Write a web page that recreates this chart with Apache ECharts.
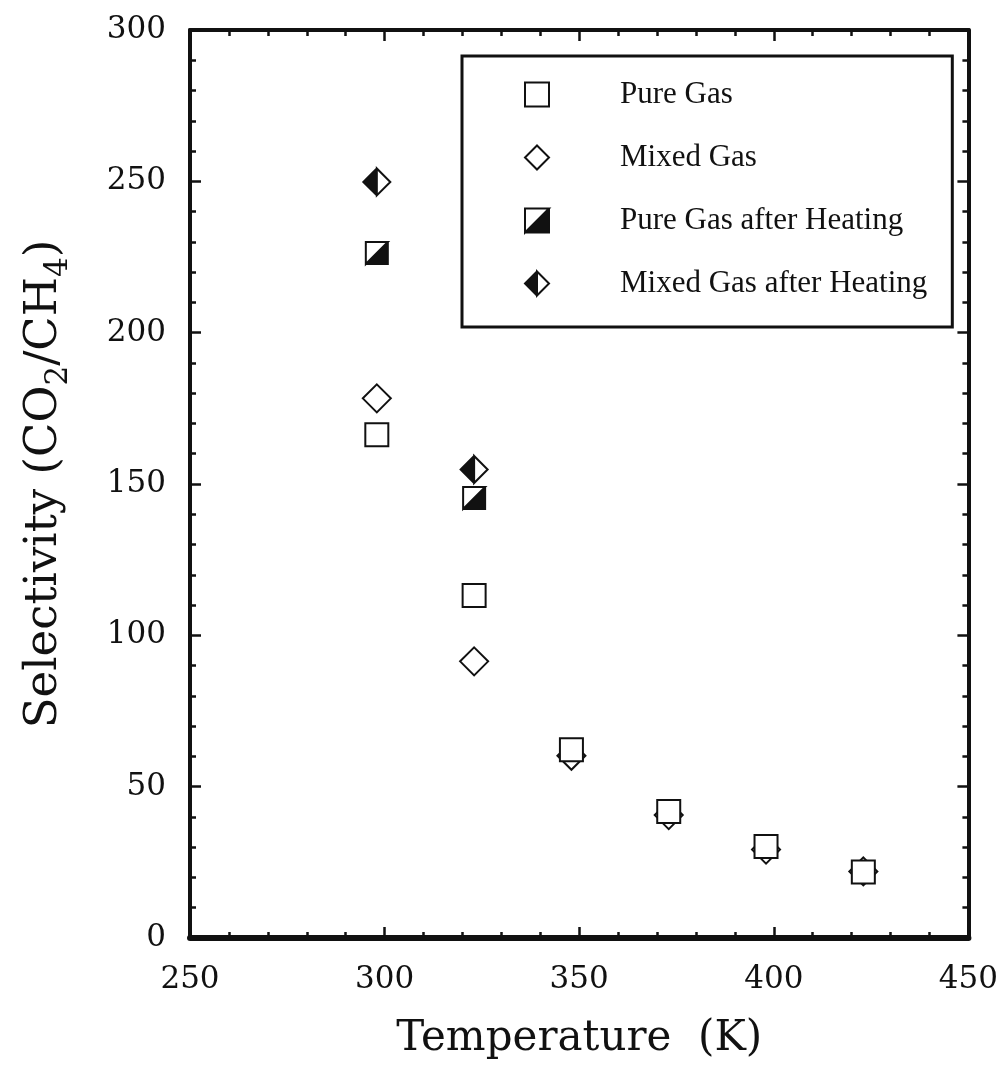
<!DOCTYPE html>
<html>
<head>
<meta charset="utf-8">
<script src="https://cdn.jsdelivr.net/npm/echarts@6/dist/echarts.min.js"></script>
<style>
html,body{margin:0;padding:0;background:#fff;}
#chart{width:1001px;height:1065px;}
</style>
</head>
<body>
<div id="chart"></div>
<script>
// Data
const temps = [298, 323, 348, 373, 398, 423];
const pureGas = [166.3, 113.2, 62.2, 41.8, 30.2, 21.8];
const mixedGas = [178.3, 91.4, 60.2, 40.6, 29.2, 22.0];
const heatTemps = [298, 323];
const pureHeated = [226.3, 145.4];
const mixedHeated = [249.8, 154.8];
const seriesNames = ['Pure Gas', 'Mixed Gas', 'Pure Gas after Heating', 'Mixed Gas after Heating'];

const halfSquare = 'path://M0,0L10,0L10,10L0,10ZM0,0L0,10L10,0Z';
const halfDiamond = 'path://M5,0L10,5L5,10L0,5ZM5,0L5,10L10,5Z';

function pairs(xs, ys){ return xs.map((x,i)=>[x, ys[i]]); }

const chart = echarts.init(document.getElementById('chart'), null, {renderer:'canvas'});
const axisFont = 'DejaVu Serif';
const tickStyle = {show:true, inside:true, length:11, lineStyle:{color:'#111', width:2.5}};
const minorStyle = {show:true, splitNumber:5, length:6, lineStyle:{color:'#111', width:2.5}};

chart.setOption({
  animation:false,
  backgroundColor:'#fff',
  grid:{left:190, right:31, top:30, bottom:127, containLabel:false},
  xAxis:[{
    type:'value', min:250, max:450, interval:50, position:'bottom',
    name:'Temperature  (K)', nameLocation:'middle', nameGap:80,
    nameTextStyle:{fontFamily:axisFont, fontSize:42, color:'#111'},
    axisLine:{show:true, onZero:false, lineStyle:{color:'#111', width:6}},
    axisTick:tickStyle, minorTick:minorStyle,
    axisLabel:{fontFamily:axisFont, fontSize:31, color:'#111', margin:26},
    splitLine:{show:false}
  },{
    type:'value', min:250, max:450, interval:50, position:'top',
    axisLine:{show:true, onZero:false, lineStyle:{color:'#111', width:4}},
    axisTick:tickStyle, minorTick:minorStyle,
    axisLabel:{show:false}, splitLine:{show:false}
  }],
  yAxis:[{
    type:'value', min:0, max:300, interval:50, position:'left',
    name:'Selectivity (CO{sub|2}/CH{sub|4})', nameLocation:'middle', nameGap:116,
    nameTextStyle:{fontFamily:axisFont, fontSize:45, color:'#111', lineHeight:60,
      rich:{sub:{fontFamily:axisFont, fontSize:31, color:'#111', verticalAlign:'bottom', lineHeight:60}}},
    axisLine:{show:true, onZero:false, lineStyle:{color:'#111', width:4}},
    axisTick:tickStyle, minorTick:minorStyle,
    axisLabel:{fontFamily:axisFont, fontSize:31, color:'#111', margin:24},
    splitLine:{show:false}
  },{
    type:'value', min:0, max:300, interval:50, position:'right',
    axisLine:{show:true, onZero:false, lineStyle:{color:'#111', width:4}},
    axisTick:tickStyle, minorTick:minorStyle,
    axisLabel:{show:false}, splitLine:{show:false}
  }],
  legend:{
    data:seriesNames,
    orient:'vertical', left:462, top:56,
    padding:[23, 25, 28, 62],
    itemWidth:24, itemHeight:24, itemGap:32,
    borderColor:'#111', borderWidth:3, backgroundColor:'#fff',
    textStyle:{fontFamily:'Liberation Serif', fontSize:31, color:'#111', padding:[0,0,0,66]},
    selectedMode:false
  },
  series:[{
    name:seriesNames[1], type:'scatter', data:pairs(temps, mixedGas), z:2,
    symbol:'diamond', symbolSize:28,
    itemStyle:{color:'#fff', borderColor:'#111', borderWidth:2, opacity:1}
  },{
    name:seriesNames[0], type:'scatter', data:pairs(temps, pureGas), z:3,
    symbol:'rect', symbolSize:23,
    itemStyle:{color:'#fff', borderColor:'#111', borderWidth:2, opacity:1}
  },{
    name:seriesNames[2], type:'scatter', data:pairs(heatTemps, pureHeated), z:3,
    symbol:halfSquare, symbolSize:22,
    itemStyle:{color:'#111', borderColor:'#111', borderWidth:2, opacity:1}
  },{
    name:seriesNames[3], type:'scatter', data:pairs(heatTemps, mixedHeated), z:3,
    symbol:halfDiamond, symbolSize:27,
    itemStyle:{color:'#111', borderColor:'#111', borderWidth:2, opacity:1}
  }]
});
</script>
</body>
</html>
